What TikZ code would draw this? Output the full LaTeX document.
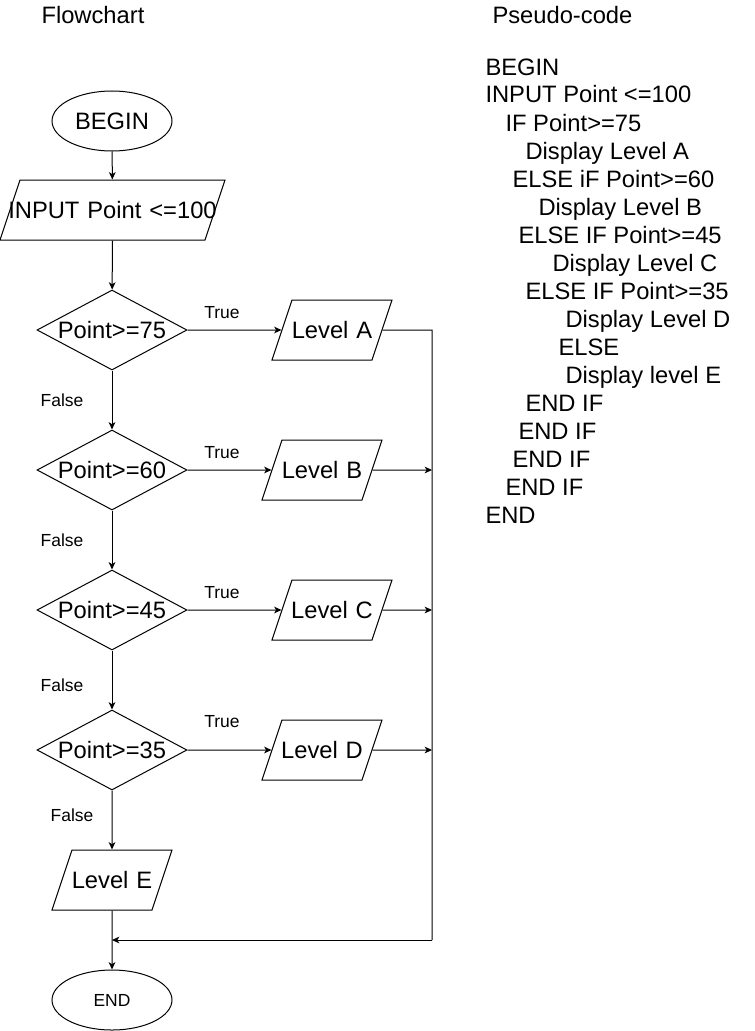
\documentclass[tikz,border=0pt]{standalone}
\usepackage{fontspec}
\setmainfont{Liberation Sans}
\usetikzlibrary{arrows.meta}
\usetikzlibrary{shapes.geometric}

\tikzset{
  bigtext/.style={font=\fontsize{17.8}{21}\selectfont},
  smalltext/.style={font=\fontsize{13.1}{15}\selectfont},
  terminal/.style={draw,ellipse,minimum width=90pt,minimum height=45pt,inner sep=0pt},
  io/.style={draw,trapezium,trapezium left angle=71.57,trapezium right angle=108.43,
    inner ysep=0pt,inner xsep=-3pt,text width=66pt,align=center,text height=28.87pt,text depth=16.13pt,bigtext},
  decision/.style={draw,diamond,aspect=1.875,minimum width=112.5pt,minimum height=60pt,inner sep=0pt,bigtext},
}

\begin{document}
\begin{tikzpicture}[x=0.75pt,y=-0.75pt,>={Stealth[length=5.5pt,width=5pt,inset=1.5pt]},line width=0.75pt]
      \useasboundingbox (0,0) rectangle (754,1031);

      \node[bigtext,anchor=base west,inner sep=0pt] (hflow) at (41,24) {Flowchart};
      \node[bigtext,anchor=base west,inner sep=0pt] (hcode) at (492,24) {Pseudo-code};

      \node[terminal,bigtext] (begin) at (112,121) {BEGIN};
      \node[io,text width=144.75pt] (input) at (112.5,210) {\makebox[0pt]{INPUT Point <=100}};

      \node[decision] (d75) at (112,330) {Point>=75};
      \node[decision] (d60) at (112,470) {Point>=60};
      \node[decision] (d45) at (112,610) {Point>=45};
      \node[decision] (d35) at (112,750) {Point>=35};

      \node[io] (la) at (332,330) {Level A};
      \node[io] (lb) at (322,470) {Level B};
      \node[io] (lc) at (332,610) {Level C};
      \node[io] (ld) at (322,750) {Level D};
      \node[io] (le) at (112,880) {Level E};

      \node[terminal,smalltext] (end) at (112,1000) {END};

      \coordinate (jA) at (432,330);
      \coordinate (jB) at (432,470);
      \coordinate (jC) at (432,610);
      \coordinate (jD) at (432,750);
      \coordinate (jE) at (432,940);
      \coordinate (mE) at (112,940);

      \draw[->] (begin) -- (input);
      \draw[->] (input) -- (d75);

      \draw[->] (d75) -- (la);
      \draw[->] (d60) -- (lb);
      \draw[->] (d45) -- (lc);
      \draw[->] (d35) -- (ld);

      \draw[->] (d75) -- (d60);
      \draw[->] (d60) -- (d45);
      \draw[->] (d45) -- (d35);
      \draw[->] (d35) -- (le);

      \draw (la) -- (jA) -- (jE);
      \draw[->] (lb) -- (jB);
      \draw[->] (lc) -- (jC);
      \draw[->] (ld) -- (jD);
      \draw[->] (jE) -- (mE);
      \draw[->] (le) -- (end);

      \foreach \y [count=\i] in {313,453,593,722}
        \node[smalltext] (true\i) at (222,\y) {True};
      \foreach \x/\y [count=\i] in {62/400,62/540,62/685,72/815}
        \node[smalltext] (false\i) at (\x,\y) {False};

      \foreach \x/\t [count=\i from 0] in {485/BEGIN,485/INPUT Point <=100,505/IF Point>=75,
          525/Display Level A,512/ELSE iF Point>=60,538/Display Level B,518/ELSE IF Point>=45,
          552/Display Level C,525/ELSE IF Point>=35,565/Display Level D,558/ELSE,
          565/Display level E,525/END IF,518/END IF,512/END IF,505/END IF,485/END}
        \node[bigtext,anchor=base west,inner sep=0pt] (code\i) at (\x,{75+28*\i}) {\t};
    \end{tikzpicture}
\end{document}
